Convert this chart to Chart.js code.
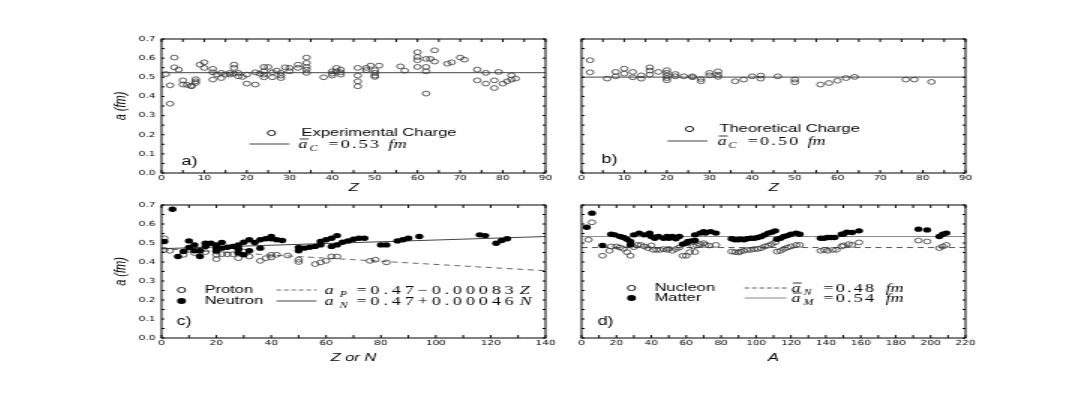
<!DOCTYPE html>
<html>
<head>
<meta charset="utf-8">
<script src="https://cdn.jsdelivr.net/npm/chart.js@4.4.0/dist/chart.umd.min.js"></script>
<style>
  html, body { margin: 0; padding: 0; background: #fff; }
  body { width: 1078px; height: 399px; position: relative; overflow: hidden; }
  /* the figure is stretched horizontally, so draw narrow and scale in x */
  canvas { position: absolute; transform-origin: 0 0; transform: scaleX(1.5); }
</style>
</head>
<body>
<canvas id="panelA" width="306" height="175" style="left:100px;top:30px"></canvas>
<canvas id="panelB" width="306" height="175" style="left:520px;top:30px"></canvas>
<canvas id="panelC" width="306" height="175" style="left:100px;top:195px"></canvas>
<canvas id="panelD" width="306" height="175" style="left:520px;top:195px"></canvas>
<script>
// ---- data ----
// a) experimental charge diffuseness vs Z
const expZ = [1, 2, 2, 3, 3, 4, 5, 5, 6, 7, 7, 8, 8, 8, 9, 10, 10, 12, 12, 12, 13, 14, 14, 15, 16, 16,
  17, 17, 17, 18, 18, 19, 20, 20, 22, 22, 23, 24, 24, 24, 24, 25, 26, 26, 27, 28, 28, 28, 29, 30, 30,
  32, 32, 34, 34, 34, 34, 34, 38, 40, 40, 40, 41, 41, 42, 42, 42, 46, 46, 46, 46, 48, 48, 49,
  50, 50, 50, 50, 51, 56, 57, 60, 60, 60, 60, 62, 62, 62, 62, 63, 64, 64, 67, 68, 70, 71,
  74, 74, 76, 76, 78, 78, 79, 80, 81, 82, 82, 83];
const expA = [0.517, 0.458, 0.362, 0.603, 0.552, 0.540, 0.484, 0.462, 0.460, 0.456, 0.453, 0.490, 0.479, 0.470, 0.566, 0.578, 0.549, 0.544, 0.526, 0.488, 0.514, 0.523, 0.496, 0.514, 0.514, 0.523,
  0.566, 0.549, 0.519, 0.523, 0.505, 0.502, 0.514, 0.467, 0.526, 0.462, 0.519, 0.554, 0.531, 0.514, 0.500, 0.554, 0.526, 0.500, 0.535, 0.523, 0.509, 0.496, 0.552, 0.549, 0.531,
  0.566, 0.549, 0.603, 0.575, 0.554, 0.540, 0.523, 0.500, 0.531, 0.519, 0.509, 0.549, 0.531, 0.540, 0.526, 0.514, 0.549, 0.509, 0.479, 0.453, 0.549, 0.537, 0.561,
  0.537, 0.523, 0.509, 0.502, 0.561, 0.557, 0.535, 0.631, 0.606, 0.589, 0.554, 0.596, 0.554, 0.531, 0.415, 0.596, 0.641, 0.582, 0.571, 0.578, 0.603, 0.592,
  0.540, 0.484, 0.523, 0.467, 0.484, 0.444, 0.528, 0.467, 0.479, 0.510, 0.488, 0.493];

// b) theoretical charge diffuseness vs Z
const theoZ = [2, 2, 6, 8, 8, 10, 10, 12, 12, 14, 14, 16, 16, 16, 18, 20, 20, 20, 20, 20, 22, 22, 24,
  26, 26, 28, 28, 30, 30, 32, 32, 32, 36, 38, 40, 42, 42, 46, 50, 50, 56, 58, 60, 62, 64, 76, 78, 82];
const theoA = [0.589, 0.526, 0.493, 0.528, 0.505, 0.545, 0.519, 0.528, 0.500, 0.510, 0.493, 0.552, 0.535, 0.514, 0.528, 0.537, 0.523, 0.509, 0.496, 0.484, 0.517, 0.505, 0.505,
  0.505, 0.500, 0.491, 0.479, 0.523, 0.510, 0.531, 0.514, 0.502, 0.479, 0.488, 0.505, 0.509, 0.493, 0.505, 0.488, 0.474, 0.462, 0.470, 0.482, 0.496, 0.502, 0.488, 0.488, 0.476];

const chargeRange = [0, 90];
const expMean = 0.524;
const theoMean = 0.501;

// c) proton / neutron diffuseness vs Z or N
const protonZ = [1, 1, 3, 8, 10, 12, 14, 16, 20, 20, 20, 22, 24, 26, 28, 28, 30, 32, 36, 38,
  40, 40, 42, 46, 50, 50, 56, 58, 60, 62, 64, 76, 78, 82];
const protonA = [0.525, 0.464, 0.459, 0.438, 0.464, 0.447, 0.459, 0.452, 0.455, 0.438, 0.415, 0.441, 0.441, 0.441, 0.469, 0.420, 0.455, 0.429, 0.406, 0.420,
  0.438, 0.424, 0.438, 0.434, 0.412, 0.400, 0.389, 0.398, 0.406, 0.429, 0.429, 0.406, 0.412, 0.398];
const neutronN = [1, 4, 6, 8, 10, 10, 12, 12, 14, 14, 16, 16, 18, 20, 20, 20, 22, 22, 24, 26, 28, 28, 28,
  30, 30, 32, 32, 34, 36, 36, 38, 40, 40, 42, 44, 50, 50, 52, 54, 56, 58, 58, 60, 62, 62, 64, 64,
  66, 68, 70, 72, 74, 80, 82, 86, 88, 90, 94, 116, 118, 122, 124, 126];
const neutronA = [0.508, 0.678, 0.429, 0.455, 0.511, 0.476, 0.490, 0.459, 0.459, 0.429, 0.499, 0.482, 0.499, 0.473, 0.490, 0.459, 0.503, 0.473, 0.478, 0.482, 0.490, 0.469, 0.447,
  0.504, 0.438, 0.517, 0.459, 0.503, 0.473, 0.517, 0.522, 0.534, 0.522, 0.517, 0.513, 0.476, 0.459, 0.473, 0.478, 0.482, 0.490, 0.508, 0.517, 0.525, 0.482, 0.539, 0.490,
  0.504, 0.511, 0.520, 0.525, 0.525, 0.490, 0.490, 0.511, 0.517, 0.525, 0.534, 0.543, 0.539, 0.499, 0.513, 0.522];
const fitEnds = [0, 140];
const protonFitA = [0.47, 0.354];
const neutronFitA = [0.47, 0.534];

// d) nucleon / matter diffuseness vs A
const nucleonMass = [4, 6, 12, 16, 17, 20, 22, 24, 26, 28, 30, 32, 34, 36, 38, 40, 41, 43, 45, 47, 49, 50, 52, 54,
  56, 58, 60, 62, 64, 65, 66, 68, 70, 71, 73, 77, 86, 88, 90, 91, 93, 95, 97, 99, 101, 103, 105, 107, 109,
  111, 112, 114, 116, 118, 120, 123, 125, 137, 139, 141, 144, 146, 149, 150, 153, 155, 159, 193, 198, 205, 207, 209];
const nucleonA = [0.517, 0.609, 0.433, 0.459, 0.482, 0.482, 0.476, 0.469, 0.452, 0.433, 0.478, 0.490, 0.490, 0.482, 0.473, 0.487, 0.464, 0.464, 0.464, 0.468, 0.464, 0.469, 0.459, 0.468,
  0.476, 0.433, 0.433, 0.452, 0.482, 0.452, 0.487, 0.494, 0.499, 0.490, 0.487, 0.490, 0.455, 0.452, 0.450, 0.455, 0.459, 0.464, 0.464, 0.468, 0.469, 0.473, 0.482, 0.487, 0.494,
  0.504, 0.455, 0.459, 0.469, 0.476, 0.482, 0.490, 0.490, 0.459, 0.464, 0.459, 0.464, 0.464, 0.482, 0.487, 0.494, 0.490, 0.503, 0.513, 0.508, 0.473, 0.482, 0.490];
const matterMass = [3, 6, 12, 17, 19, 22, 24, 26, 28, 28, 30, 33, 36, 39, 40, 42, 44, 47, 49, 50, 52, 54, 56, 58,
  60, 61, 63, 65, 65, 68, 70, 71, 74, 77, 86, 88, 90, 91, 93, 95, 97, 99, 101, 103, 105, 107, 109, 111,
  112, 114, 116, 118, 120, 123, 125, 137, 139, 141, 143, 145, 149, 150, 152, 155, 159, 193, 198, 205, 207, 209];
const matterA = [0.583, 0.657, 0.487, 0.546, 0.543, 0.534, 0.529, 0.520, 0.508, 0.490, 0.543, 0.552, 0.543, 0.552, 0.534, 0.525, 0.534, 0.525, 0.534, 0.525, 0.534, 0.522, 0.534, 0.494,
  0.499, 0.508, 0.511, 0.513, 0.543, 0.552, 0.560, 0.552, 0.560, 0.552, 0.522, 0.517, 0.517, 0.520, 0.517, 0.522, 0.525, 0.525, 0.529, 0.534, 0.543, 0.552, 0.557, 0.564,
  0.520, 0.525, 0.534, 0.539, 0.546, 0.552, 0.546, 0.525, 0.525, 0.529, 0.529, 0.529, 0.546, 0.546, 0.557, 0.555, 0.564, 0.573, 0.569, 0.534, 0.546, 0.552];
const massRange = [0, 220];
const nucleonMean = 0.476;
const matterMean = 0.534;

// ---- drawing ----
const SX = 1.5; // horizontal stretch applied by css
const tickFont = { family: 'DejaVu Sans', size: 7 };
const titleFont = { family: 'Liberation Sans', size: 11, style: 'italic' };

const toPoints = (xs, ys) => xs.map((x, i) => ({ x, y: ys[i] }));

const openPts = (xs, ys) => ({
  data: toPoints(xs, ys), showLine: false, pointStyle: 'circle', pointRadius: 2.4,
  pointBorderWidth: 0.8, pointBorderColor: '#333', pointBackgroundColor: 'rgba(255,255,255,0)'
});
const filledPts = (xs, ys) => ({
  data: toPoints(xs, ys), showLine: false, pointStyle: 'circle', pointRadius: 2.7,
  pointBorderWidth: 0, pointBorderColor: '#000', pointBackgroundColor: '#000'
});
const lineSet = (xs, ys, color, dash) => ({
  data: toPoints(xs, ys), showLine: true, pointRadius: 0, borderColor: color,
  borderWidth: 1, borderDash: dash || []
});

function drawFormula(ctx, x, y, f) {
  const base = y + 4;
  ctx.textBaseline = 'alphabetic';
  ctx.textAlign = 'left';
  ctx.font = 'italic 12px "Liberation Serif"';
  ctx.fillText('a', x, base);
  const aw = ctx.measureText('a').width;
  if (f.bar) {
    ctx.beginPath();
    ctx.moveTo(x + 0.8, base - 9);
    ctx.lineTo(x + aw + 0.8, base - 9);
    ctx.stroke();
  }
  ctx.font = 'italic 8px "Liberation Serif"';
  ctx.fillText(f.sub, x + f.subDx / SX, base + 3);
  ctx.font = '12px "Liberation Serif"';
  let cx = x + f.restDx / SX;
  for (const ch of f.rest) {
    ctx.fillText(ch, cx, base);
    cx += ctx.measureText(ch).width + f.ls;
  }
  ctx.font = 'italic 12px "Liberation Serif"';
  ctx.fillText(f.tail, x + f.tailDx / SX, base);
}

const panelDecor = {
  id: 'panelDecor',
  afterDatasetsDraw(chart, args, opts) {
    const ctx = chart.ctx, a = chart.chartArea;
    const xs = chart.scales.x, ys = chart.scales.y;
    ctx.save();
    ctx.strokeStyle = '#000';
    ctx.fillStyle = '#000';
    ctx.lineWidth = 1;
    ctx.strokeRect(a.left, a.top, a.right - a.left, a.bottom - a.top);

    // inward ticks on all four sides
    ctx.beginPath();
    for (let v = xs.min; v <= xs.max + 1e-9; v += opts.xMinor) {
      const px = xs.getPixelForValue(v);
      ctx.moveTo(px, a.bottom); ctx.lineTo(px, a.bottom - 3);
      ctx.moveTo(px, a.top); ctx.lineTo(px, a.top + 3);
    }
    for (let v = ys.min; v <= ys.max + 1e-9; v += 0.05) {
      const py = ys.getPixelForValue(v);
      ctx.moveTo(a.left, py); ctx.lineTo(a.left + 2, py);
      ctx.moveTo(a.right, py); ctx.lineTo(a.right - 2, py);
    }
    ctx.stroke();

    // legend and panel tag, offsets are in displayed pixels from the plot corner
    for (const it of opts.items) {
      const x = a.left + it.dx / SX, y = a.top + it.dy;
      ctx.setLineDash([]);
      ctx.strokeStyle = '#000';
      if (it.t === 'mark') {
        ctx.beginPath();
        ctx.arc(x, y, it.fill ? 3 : 2.6, 0, Math.PI * 2);
        if (it.fill) ctx.fill();
        else { ctx.lineWidth = 0.9; ctx.stroke(); ctx.lineWidth = 1; }
      } else if (it.t === 'text' || it.t === 'tag') {
        ctx.font = it.t === 'tag' ? '12px "Liberation Sans"' : '11px "Liberation Sans"';
        ctx.textBaseline = 'middle';
        ctx.textAlign = 'left';
        ctx.fillText(it.s, x, y);
      } else if (it.t === 'line') {
        ctx.strokeStyle = it.color;
        ctx.setLineDash(it.dash || []);
        ctx.beginPath();
        ctx.moveTo(x, y);
        ctx.lineTo(a.left + it.dx2 / SX, y);
        ctx.stroke();
      } else if (it.t === 'formula') {
        ctx.lineWidth = 0.8;
        drawFormula(ctx, x, y, it);
        ctx.lineWidth = 1;
      }
    }
    ctx.restore();
  }
};

function makePanel(id, p) {
  return new Chart(document.getElementById(id), {
    type: 'scatter',
    data: { datasets: p.datasets },
    options: {
      responsive: false,
      animation: false,
      devicePixelRatio: 1,
      events: [],
      layout: { padding: { top: p.padTop, right: 9, bottom: 0, left: 0 } },
      plugins: {
        legend: { display: false },
        tooltip: { enabled: false },
        panelDecor: { xMinor: p.xMinor, items: p.items }
      },
      scales: {
        x: {
          type: 'linear', min: p.xRange[0], max: p.xRange[1],
          ticks: { stepSize: p.xStep, font: tickFont, color: '#000', padding: 1, maxRotation: 0, autoSkip: false },
          grid: { display: false, drawTicks: false },
          border: { display: false },
          title: { display: true, text: p.xTitle, font: titleFont, color: '#000', padding: { top: 0, bottom: p.xTitlePad } },
          afterFit(s) { s.height = 32; s.paddingLeft = 0; s.paddingRight = 0; }
        },
        y: {
          type: 'linear', min: 0, max: 0.7,
          ticks: { display: p.yLabels, stepSize: 0.1, callback: v => v.toFixed(1), font: tickFont, color: '#000', padding: 4 },
          grid: { display: false, drawTicks: false },
          border: { display: false },
          title: { display: p.yLabels, text: 'a (fm)', font: titleFont, color: '#000', padding: { top: 7, bottom: 0 } },
          afterFit(s) { s.width = 41; s.paddingTop = 0; s.paddingBottom = 0; }
        }
      }
    },
    plugins: [panelDecor]
  });
}

makePanel('panelA', {
  datasets: [
    openPts(expZ, expA),
    lineSet(chargeRange, [expMean, expMean], '#444')
  ],
  xRange: chargeRange, xStep: 10, xMinor: 5, xTitle: 'Z', xTitlePad: 10, yLabels: true, padTop: 9,
  items: [
    { t: 'mark', fill: false, dx: 110, dy: 94 },
    { t: 'text', s: 'Experimental Charge', dx: 140, dy: 94 },
    { t: 'line', dx: 88, dx2: 128, dy: 105, color: '#444' },
    { t: 'formula', dx: 137, dy: 105, bar: true, sub: 'C', subDx: 11, rest: '=0.53', restDx: 30, ls: 1.5, tail: 'fm', tailDx: 90 },
    { t: 'tag', s: 'a)', dx: 20, dy: 123 }
  ]
});

makePanel('panelB', {
  datasets: [
    openPts(theoZ, theoA),
    lineSet(chargeRange, [theoMean, theoMean], '#444')
  ],
  xRange: chargeRange, xStep: 10, xMinor: 5, xTitle: 'Z', xTitlePad: 10, yLabels: false, padTop: 9,
  items: [
    { t: 'mark', fill: false, dx: 108, dy: 90 },
    { t: 'text', s: 'Theoretical Charge', dx: 138, dy: 90 },
    { t: 'line', dx: 86, dx2: 126, dy: 102, color: '#444' },
    { t: 'formula', dx: 136, dy: 102, bar: true, sub: 'C', subDx: 11, rest: '=0.50', restDx: 30, ls: 1.5, tail: 'fm', tailDx: 90 },
    { t: 'tag', s: 'b)', dx: 20, dy: 121 }
  ]
});

makePanel('panelC', {
  datasets: [
    filledPts(neutronN, neutronA),
    openPts(protonZ, protonA),
    lineSet(fitEnds, neutronFitA, '#444'),
    lineSet(fitEnds, protonFitA, '#666', [4, 3])
  ],
  xRange: fitEnds, xStep: 20, xMinor: 10, xTitle: 'Z or N', xTitlePad: 5, yLabels: true, padTop: 10,
  items: [
    { t: 'mark', fill: false, dx: 20, dy: 85 },
    { t: 'text', s: 'Proton', dx: 43, dy: 85 },
    { t: 'line', dx: 115, dx2: 155, dy: 85, color: '#666', dash: [3, 2] },
    { t: 'formula', dx: 163, dy: 85, bar: false, sub: 'P', subDx: 15, rest: '=0.47\u22120.00083', restDx: 32, ls: 2.6, tail: 'Z', tailDx: 195 },
    { t: 'mark', fill: true, dx: 20, dy: 96 },
    { t: 'text', s: 'Neutron', dx: 43, dy: 96 },
    { t: 'line', dx: 115, dx2: 155, dy: 96, color: '#444' },
    { t: 'formula', dx: 163, dy: 96, bar: false, sub: 'N', subDx: 15, rest: '=0.47+0.00046', restDx: 32, ls: 2.6, tail: 'N', tailDx: 195 },
    { t: 'tag', s: 'c)', dx: 15, dy: 117 }
  ]
});

makePanel('panelD', {
  datasets: [
    filledPts(matterMass, matterA),
    openPts(nucleonMass, nucleonA),
    lineSet(massRange, [matterMean, matterMean], '#888'),
    lineSet(massRange, [nucleonMean, nucleonMean], '#555', [4, 3])
  ],
  xRange: massRange, xStep: 20, xMinor: 10, xTitle: 'A', xTitlePad: 5, yLabels: false, padTop: 10,
  items: [
    { t: 'mark', fill: false, dx: 50, dy: 83 },
    { t: 'text', s: 'Nucleon', dx: 73, dy: 83 },
    { t: 'line', dx: 163, dx2: 205, dy: 83, color: '#555', dash: [3, 2] },
    { t: 'formula', dx: 210, dy: 83, bar: true, sub: 'N', subDx: 12, rest: '=0.48', restDx: 32, ls: 1.5, tail: 'fm', tailDx: 94 },
    { t: 'mark', fill: true, dx: 50, dy: 93 },
    { t: 'text', s: 'Matter', dx: 73, dy: 93 },
    { t: 'line', dx: 163, dx2: 205, dy: 93, color: '#888' },
    { t: 'formula', dx: 210, dy: 93, bar: true, sub: 'M', subDx: 12, rest: '=0.54', restDx: 32, ls: 1.5, tail: 'fm', tailDx: 94 },
    { t: 'tag', s: 'd)', dx: 16, dy: 117 }
  ]
});
</script>
</body>
</html>
